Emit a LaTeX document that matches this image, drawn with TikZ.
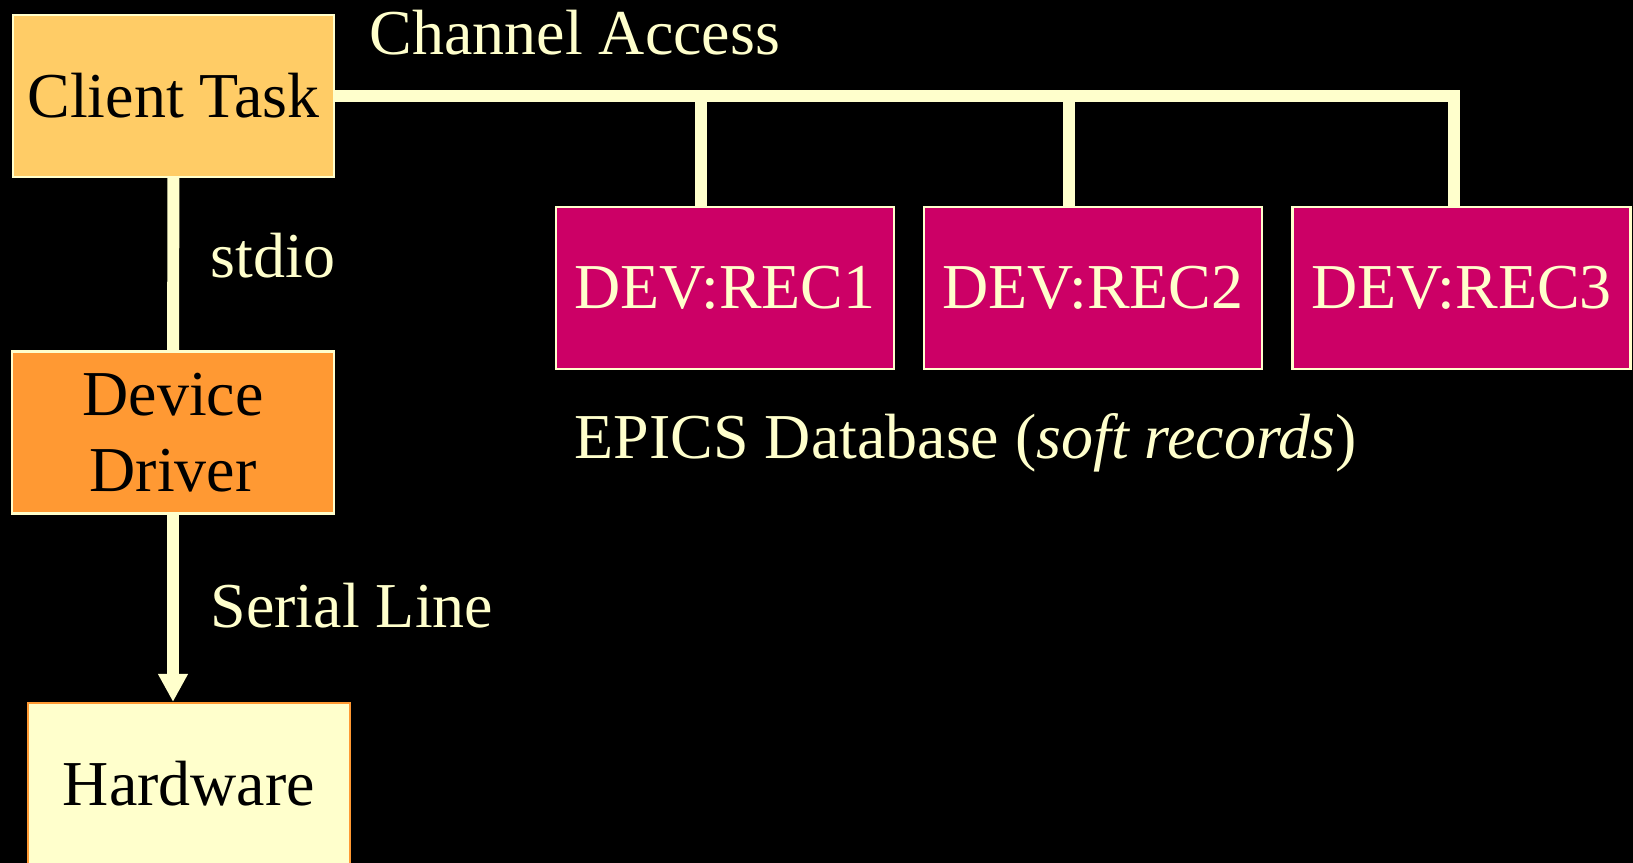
\documentclass[tikz,border=0pt]{standalone}
\usepackage{fontspec}
\setmainfont{Liberation Serif}
\usepackage{xcolor}
\usepackage{tikz}
\usetikzlibrary{arrows.meta, positioning, calc}
\definecolor{mycream}{RGB}{255, 255, 204}
\definecolor{mygold}{RGB}{255, 204, 102}
\definecolor{myorange}{RGB}{255, 153, 51}
\definecolor{mymagenta}{RGB}{204, 0, 102}

\tikzset{
  box/.style={rectangle, line width=0.6pt, minimum height=1.62cm, inner sep=0pt,
    font=\fontsize{18.2}{21.6}\selectfont},
  recbox/.style={box, draw=mycream, fill=mymagenta, text=mycream, minimum width=3.38cm},
  wire/.style={draw=mycream, line width=3.4pt},
  lbl/.style={anchor=base west, text=mycream, inner sep=0pt, font=\fontsize{18.2}{21.6}\selectfont}
}

\begin{document}
\begin{tikzpicture}
    % Hintergrund
    \fill[black] (0,0) rectangle (16.33,8.63);
    \useasboundingbox (0,0) rectangle (16.33,8.63);

    % linke Seite
    \node[box, draw=mycream, fill=mygold, minimum width=3.21cm] (client) at (1.735, 7.67) {Client Task};
    \node[box, draw=mycream, fill=myorange, minimum width=3.22cm, align=center] (driver) at (1.73, 4.305) {Device\\Driver};
    \node[box, draw=myorange, fill=mycream, minimum width=3.22cm] (hw) at (1.89, 0.79) {Hardware};

    % Records
    \node[recbox] (rec1) at (7.25, 5.75) {DEV:REC1};
    \node[recbox] (rec2) at (10.93, 5.75) {DEV:REC2};
    \node[recbox] (rec3) at (14.615, 5.75) {DEV:REC3};

    % Bus
    \coordinate (t1) at (7.01, 7.67);
    \coordinate (t2) at (10.69, 7.67);
    \coordinate (t3) at (14.54, 7.67);
    \draw[wire] (client.east) -- (t3) -- (t3 |- rec3.north);
    \draw[wire] (t1) -- (t1 |- rec1.north);
    \draw[wire] (t2) -- (t2 |- rec2.north);

    % Verbindungen
    \draw[wire] (client) -- (driver);
    \draw[wire, -{Triangle[length=0.28cm, width=0.28cm]}] (driver.south) -- (driver.south |- hw.north);

    % Beschriftungen
    \node[lbl] (ca) at (3.69, 8.08) {Channel Access};
    \node[lbl] (io) at (2.10, 5.85) {stdio};
    \node[lbl] (sl) at (2.10, 2.35) {Serial Line};
    \node[lbl] (db) at (5.74, 4.04) {EPICS Database (\textit{soft records})};
\end{tikzpicture}
\end{document}
